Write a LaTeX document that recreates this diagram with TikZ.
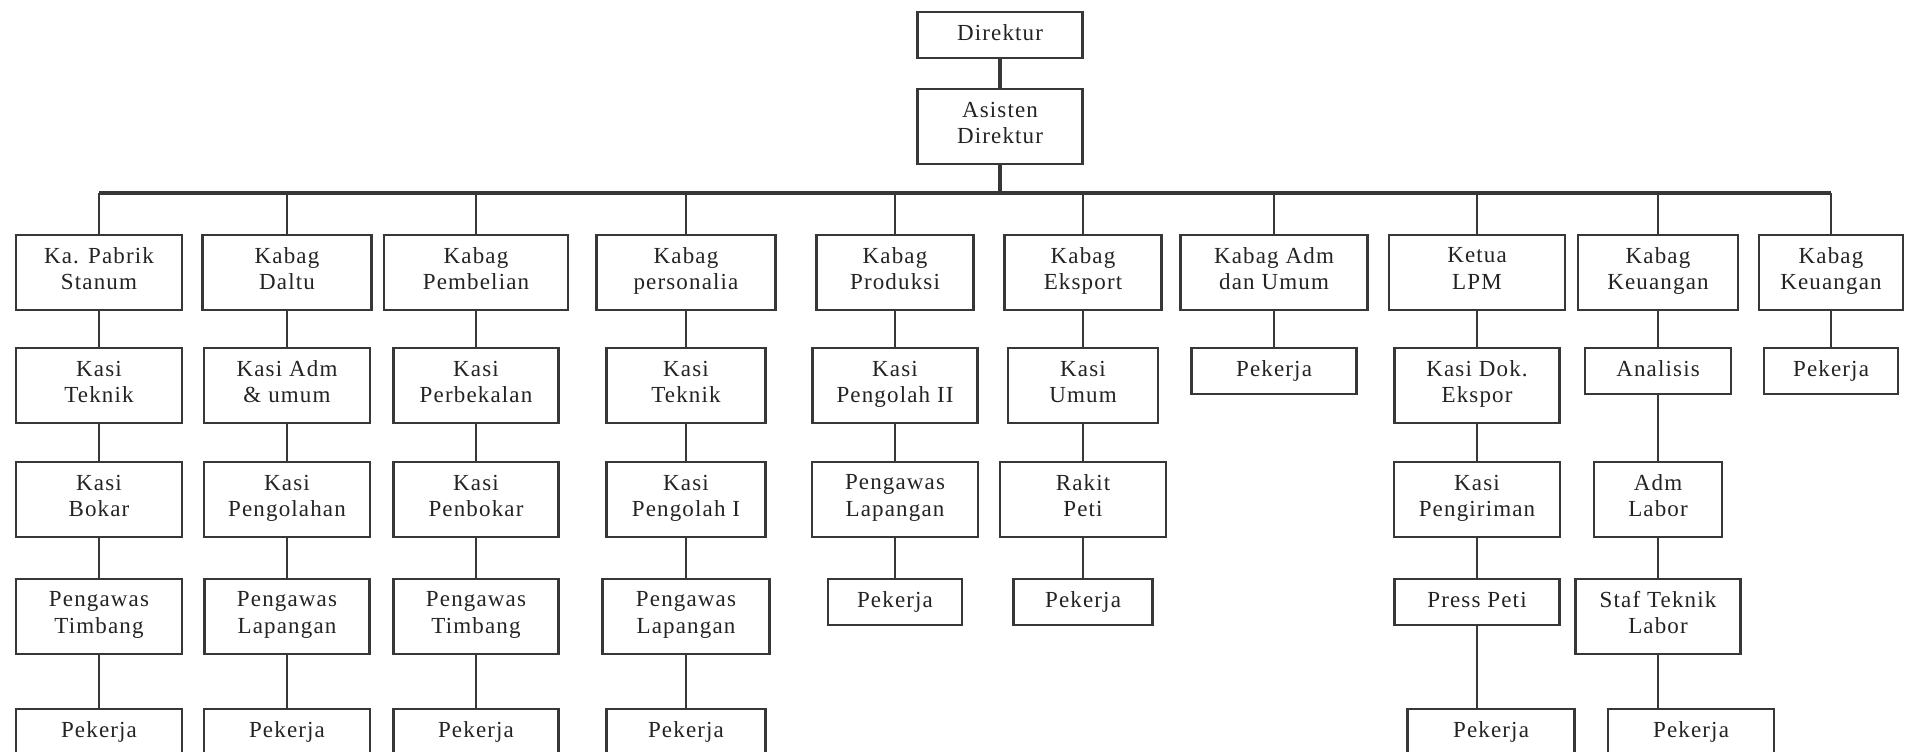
\documentclass[tikz,border=0pt]{standalone}
\usepackage{fontspec}
\setmainfont[LetterSpace=5]{Liberation Serif}
\usepackage{xcolor}
\definecolor{boxline}{RGB}{55,55,55}
\definecolor{boxtext}{RGB}{35,35,35}
\tikzset{%
    unit/.style={%
        draw=boxline, text=boxtext, rectangle, anchor=north, align=center,
        line width=1.1pt, inner sep=1pt,
        minimum width=83pt, minimum height=37.5pt,
        font=\fontsize{11.5}{13.2}\selectfont,
        execute at begin node=\strut, execute at end node=\strut
    },
    one line/.style={unit, minimum height=23pt}
}

\begin{document}
\begin{tikzpicture}[x=0.5pt,y=-0.5pt,
  link/.style={draw=boxline,line width=1.1pt},
  trunk/.style={draw=boxline,line width=2.2pt}]

  \useasboundingbox (0,0) rectangle (1914,751);

  \node[one line,minimum width=82.5pt] (dir) at (1000,11) {Direktur};
  \node[unit,minimum width=82.5pt] (asdir) at (1000,88) {Asisten\\Direktur};

  % kepala bagian
  \node[unit] (k1) at (99,234) {Ka. Pabrik\\Stanum};
  \node[unit,minimum width=84.5pt] (k2) at (287,234) {Kabag\\Daltu};
  \node[unit,minimum width=92pt] (k3) at (476,234) {Kabag\\Pembelian};
  \node[unit,minimum width=89.5pt] (k4) at (686,234) {Kabag\\personalia};
  \node[unit,minimum width=78.5pt] (k5) at (895,234) {Kabag\\Produksi};
  \node[unit,minimum width=78.5pt] (k6) at (1083,234) {Kabag\\Eksport};
  \node[unit,minimum width=93.5pt] (k7) at (1274,234) {Kabag Adm\\dan Umum};
  \node[unit,minimum width=88pt] (k8) at (1477,234) {Ketua\\LPM};
  \node[unit,minimum width=80pt] (k9) at (1658,234) {Kabag\\Keuangan};
  \node[unit,minimum width=72pt] (k10) at (1831,234) {Kabag\\Keuangan};

  \node[unit] (k1a) at (99,347) {Kasi\\Teknik};
  \node[unit] (k2a) at (287,347) {Kasi Adm\\\& umum};
  \node[unit,minimum width=82.5pt] (k3a) at (476,347) {Kasi\\Perbekalan};
  \node[unit,minimum width=79.5pt] (k4a) at (686,347) {Kasi\\Teknik};
  \node[unit,minimum width=82.5pt] (k5a) at (895,347) {Kasi\\Pengolah II};
  \node[unit,minimum width=75pt] (k6a) at (1083,347) {Kasi\\Umum};
  \node[one line,minimum width=82.5pt] (k7a) at (1274,347) {Pekerja};
  \node[unit,minimum width=82.5pt] (k8a) at (1477,347) {Kasi Dok.\\Ekspor};
  \node[one line,minimum width=73pt] (k9a) at (1658,347) {Analisis};
  \node[one line,minimum width=67pt] (k10a) at (1831,347) {Pekerja};

  \node[unit] (k1b) at (99,461) {Kasi\\Bokar};
  \node[unit] (k2b) at (287,461) {Kasi\\Pengolahan};
  \node[unit,minimum width=82.5pt] (k3b) at (476,461) {Kasi\\Penbokar};
  \node[unit,minimum width=79.5pt] (k4b) at (686,461) {Kasi\\Pengolah I};
  \node[unit] (k5b) at (895,461) {Pengawas\\Lapangan};
  \node[unit] (k6b) at (1083,461) {Rakit\\Peti};
  \node[unit] (k8b) at (1477,461) {Kasi\\Pengiriman};
  \node[unit,minimum width=64pt] (k9b) at (1658,461) {Adm\\Labor};

  \node[unit] (k1c) at (99,578) {Pengawas\\Timbang};
  \node[unit,minimum width=82.5pt] (k2c) at (287,578) {Pengawas\\Lapangan};
  \node[unit,minimum width=82.5pt] (k3c) at (476,578) {Pengawas\\Timbang};
  \node[unit,minimum width=83.5pt] (k4c) at (686,578) {Pengawas\\Lapangan};
  \node[one line,minimum width=67pt] (k5c) at (895,578) {Pekerja};
  \node[one line,minimum width=69.5pt] (k6c) at (1083,578) {Pekerja};
  \node[one line,minimum width=82.5pt] (k8c) at (1477,578) {Press Peti};
  \node[unit,minimum width=82.5pt] (k9c) at (1658,578) {Staf Teknik\\Labor};

  \node[one line] (k1d) at (99,708) {Pekerja};
  \node[one line] (k2d) at (287,708) {Pekerja};
  \node[one line,minimum width=82.5pt] (k3d) at (476,708) {Pekerja};
  \node[one line,minimum width=79.5pt] (k4d) at (686,708) {Pekerja};
  \node[one line,minimum width=83.5pt] (k8d) at (1491,708) {Pekerja};
  \node[one line] (k9d) at (1691,708) {Pekerja};

  % garis
  \coordinate (bar) at (0,193);
  \draw[trunk] (dir) -- (asdir);
  \draw[trunk] (asdir) -- (asdir |- bar);
  \draw[trunk] (k1 |- bar) -- (k10 |- bar);
\path[link]
  (k1 |- bar) edge (k1)  (k2 |- bar) edge (k2)  (k3 |- bar) edge (k3)
  (k4 |- bar) edge (k4)  (k5 |- bar) edge (k5)  (k6 |- bar) edge (k6)
  (k7 |- bar) edge (k7)  (k8 |- bar) edge (k8)  (k9 |- bar) edge (k9)
  (k10 |- bar) edge (k10)
  (k1) edge (k1a)  (k1a) edge (k1b)  (k1b) edge (k1c)  (k1c) edge (k1d)
  (k2) edge (k2a)  (k2a) edge (k2b)  (k2b) edge (k2c)  (k2c) edge (k2d)
  (k3) edge (k3a)  (k3a) edge (k3b)  (k3b) edge (k3c)  (k3c) edge (k3d)
  (k4) edge (k4a)  (k4a) edge (k4b)  (k4b) edge (k4c)  (k4c) edge (k4d)
  (k5) edge (k5a)  (k5a) edge (k5b)  (k5b) edge (k5c)
  (k6) edge (k6a)  (k6a) edge (k6b)  (k6b) edge (k6c)
  (k7) edge (k7a)
  (k8) edge (k8a)  (k8a) edge (k8b)  (k8b) edge (k8c)
  (k8c.south) edge (k8c.south |- k8d.north)
  (k9) edge (k9a)  (k9a) edge (k9b)  (k9b) edge (k9c)
  (k9c.south) edge (k9c.south |- k9d.north)
  (k10) edge (k10a);
\end{tikzpicture}
\end{document}
